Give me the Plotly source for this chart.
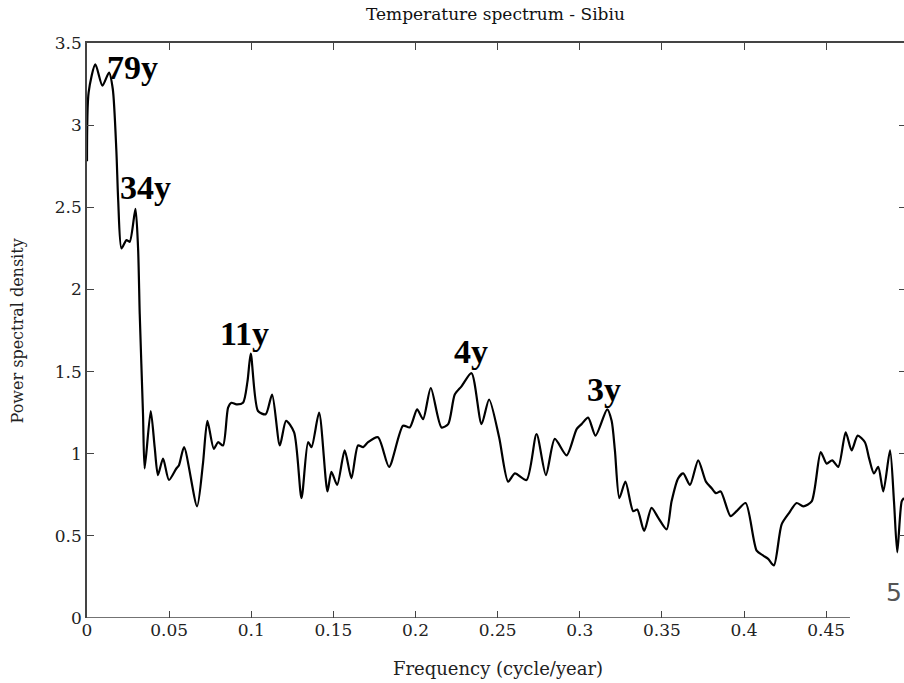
import plotly.graph_objects as go

# Frequency (cycle/year)
freq = [0.000, 0.001, 0.0051, 0.0094, 0.0134, 0.0157, 0.0179, 0.0190, 0.0210, 0.0240,
        0.0260, 0.0295, 0.0311, 0.0321, 0.0341, 0.0351, 0.0388, 0.0412, 0.0432, 0.0463,
        0.0499, 0.0544, 0.0560, 0.0591, 0.0670, 0.0706, 0.0733, 0.0772, 0.0798, 0.0828,
        0.0859, 0.0879, 0.0910, 0.0950, 0.0977, 0.0997, 0.1041, 0.1088, 0.1127, 0.1174,
        0.1212, 0.1261, 0.1306, 0.1346, 0.1367, 0.1413, 0.1464, 0.1488, 0.1523, 0.1569,
        0.1610, 0.1650, 0.1681, 0.1711, 0.1772, 0.1839, 0.1924, 0.1965, 0.2010, 0.2046,
        0.2093, 0.2158, 0.2199, 0.2239, 0.2280, 0.2341, 0.2402, 0.2448, 0.2509, 0.2564,
        0.2605, 0.2676, 0.2737, 0.2794, 0.2848, 0.2920, 0.2981, 0.3011, 0.3051, 0.3096,
        0.3167, 0.3194, 0.3214, 0.3241, 0.3278, 0.3325, 0.3350, 0.3392, 0.3437, 0.3478,
        0.3529, 0.3559, 0.3599, 0.3630, 0.3671, 0.3721, 0.3768, 0.3803, 0.3829, 0.3858,
        0.3918, 0.3955, 0.4010, 0.4077, 0.4117, 0.4147, 0.4182, 0.4229, 0.4275, 0.4320,
        0.4361, 0.4412, 0.4467, 0.4503, 0.4537, 0.4574, 0.4619, 0.4655, 0.4692, 0.4736,
        0.4762, 0.4791, 0.4817, 0.4848, 0.4889, 0.4913, 0.4933, 0.4960, 0.4974]

# Power spectral density
psd = [2.78, 3.20, 3.37, 3.24, 3.32, 3.22, 2.84, 2.54, 2.25, 2.30,
       2.29, 2.49, 2.25, 1.85, 1.24, 0.91, 1.26, 1.04, 0.87, 0.97,
       0.84, 0.91, 0.93, 1.04, 0.68, 0.94, 1.20, 1.03, 1.07, 1.05,
       1.28, 1.31, 1.30, 1.31, 1.44, 1.61, 1.26, 1.24, 1.36, 1.05,
       1.20, 1.13, 0.73, 1.07, 1.04, 1.25, 0.77, 0.89, 0.81, 1.02,
       0.85, 1.05, 1.04, 1.07, 1.10, 0.92, 1.17, 1.16, 1.27, 1.21,
       1.40, 1.16, 1.18, 1.36, 1.41, 1.49, 1.18, 1.33, 1.10, 0.83,
       0.88, 0.84, 1.12, 0.87, 1.09, 0.99, 1.15, 1.18, 1.22, 1.11,
       1.27, 1.20, 1.02, 0.73, 0.83, 0.65, 0.66, 0.53, 0.67, 0.61,
       0.54, 0.71, 0.85, 0.88, 0.81, 0.96, 0.83, 0.79, 0.76, 0.77,
       0.62, 0.65, 0.70, 0.41, 0.38, 0.36, 0.32, 0.57, 0.64, 0.70,
       0.68, 0.71, 1.01, 0.94, 0.96, 0.92, 1.13, 1.02, 1.11, 1.07,
       0.97, 0.88, 0.92, 0.77, 1.02, 0.71, 0.40, 0.71, 0.73]

x_ticks = [0, 0.05, 0.1, 0.15, 0.2, 0.25, 0.3, 0.35, 0.4, 0.45]
x_tick_text = ["0", "0.05", "0.1", "0.15", "0.2", "0.25", "0.3", "0.35", "0.4", "0.45"]
y_ticks = [0, 0.5, 1, 1.5, 2, 2.5, 3, 3.5]
y_tick_text = ["0", "0.5", "1", "1.5", "2", "2.5", "3", "3.5"]

peak_labels = ["79y", "34y", "11y", "4y", "3y"]
peak_label_x = [0.0278, 0.0354, 0.0957, 0.2340, 0.3150]
peak_label_y = [3.35, 2.62, 1.73, 1.62, 1.39]

X_MAX = 0.4974
SERIF = "DejaVu Serif, serif"
BOLD_SERIF = "Liberation Serif, Times New Roman, serif"
AX = "#444444"

fig = go.Figure()
fig.add_trace(go.Scatter(x=freq, y=psd, mode="lines",
                         line=dict(color="black", width=2.2, shape="spline", smoothing=0.7),
                         hoverinfo="skip", showlegend=False))
# invisible trace to activate the mirrored (top/right) tick axes
fig.add_trace(go.Scatter(x=freq, y=psd, mode="lines", xaxis="x2", yaxis="y2",
                         line=dict(color="rgba(0,0,0,0)", width=0),
                         hoverinfo="skip", showlegend=False))

tick_font = dict(family=SERIF, size=17, color="#222222")

fig.update_layout(
    width=904, height=683,
    margin=dict(l=87, r=0, t=43, b=65),
    paper_bgcolor="white", plot_bgcolor="white",
    title=dict(text="Temperature spectrum - Sibiu", x=0.548, xanchor="center",
               y=0.979, yanchor="middle", yref="container",
               font=dict(family=SERIF, size=17, color="#111111")),
    xaxis=dict(range=[0, X_MAX], tickmode="array", tickvals=x_ticks, ticktext=x_tick_text,
               ticks="inside", ticklen=7, tickcolor=AX, tickwidth=1,
               showline=False, showgrid=False, zeroline=False,
               tickfont=tick_font),
    xaxis2=dict(range=[0, X_MAX], overlaying="x", side="top", matches="x",
                tickmode="array", tickvals=x_ticks, ticks="inside", ticklen=7,
                tickcolor=AX, showticklabels=False, showline=True, linecolor=AX,
                linewidth=1.5, showgrid=False, zeroline=False),
    yaxis=dict(range=[0, 3.5], tickmode="array", tickvals=y_ticks, ticktext=y_tick_text,
               ticks="inside", ticklen=7, tickcolor=AX, showline=True, linecolor=AX,
               linewidth=1.5, showgrid=False, zeroline=False, tickfont=tick_font),
    yaxis2=dict(range=[0, 3.5], overlaying="y", side="right", matches="y",
                tickmode="array", tickvals=y_ticks, ticks="inside", ticklen=5,
                tickcolor=AX, showticklabels=False, showline=False,
                showgrid=False, zeroline=False),
)

# bottom axis line (stops short of the right edge as in the source image)
fig.add_shape(type="line", xref="x", yref="y", x0=0, x1=0.4645, y0=0, y1=0,
              line=dict(color=AX, width=1.5))

for t, xv, yv in zip(peak_labels, peak_label_x, peak_label_y):
    fig.add_annotation(x=xv, y=yv, xref="x", yref="y", text=t, showarrow=False,
                       xanchor="center", yanchor="middle",
                       font=dict(family=BOLD_SERIF, size=34, color="black", weight="bold"))

fig.add_annotation(x=0.503, y=-0.0875, xref="paper", yref="paper",
                   text="Frequency (cycle/year)", showarrow=False,
                   xanchor="center", yanchor="middle",
                   font=dict(family=SERIF, size=18, color="#222222"))
fig.add_annotation(x=-0.0845, y=0.5, xref="paper", yref="paper",
                   text="Power spectral density", showarrow=False, textangle=-90,
                   xanchor="center", yanchor="middle",
                   font=dict(family=SERIF, size=16, color="#222222"))
fig.add_annotation(x=0.988, y=0.0447, xref="paper", yref="paper", text="5",
                   showarrow=False, xanchor="center", yanchor="middle",
                   font=dict(family="DejaVu Sans, sans-serif", size=25, color="#555555"))

fig.write_html("out.html", config={"displayModeBar": False},
               post_script="document.body.style.margin='0';document.body.style.overflow='hidden';")
